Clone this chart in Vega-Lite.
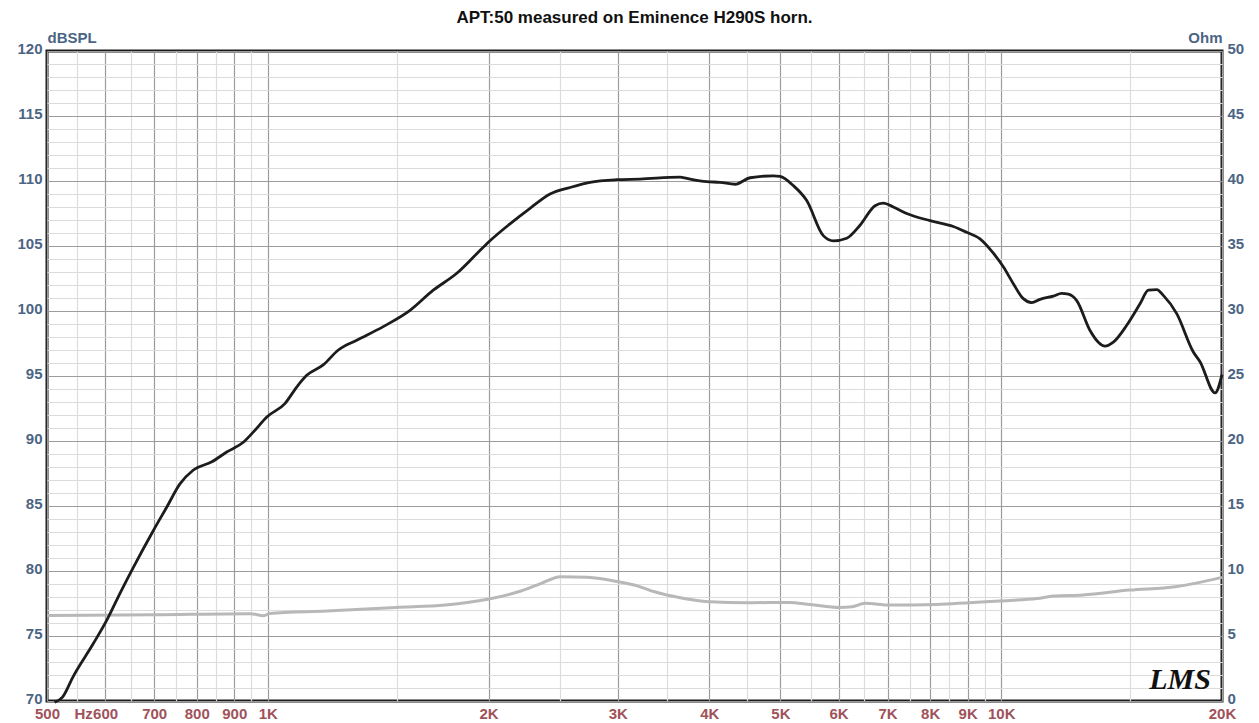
{
  "$schema": "https://vega.github.io/schema/vega-lite/v6.json",
  "width": 1175,
  "height": 650,
  "autosize": {"type": "none"},
  "padding": {"left": 47, "top": 51, "right": 37, "bottom": 22},
  "background": "white",
  "config": {
    "view": {"stroke": "#1a1a1a", "strokeWidth": 3},
    "axis": {"labelFont": "Liberation Sans", "labelFontWeight": "bold", "labelFontSize": 15, "titleFont": "Liberation Sans", "titleFontWeight": "bold", "titleFontSize": 15, "ticks": false, "domain": false, "labelOverlap": false}
  },
  "title": {"text": "APT:50 measured on Eminence H290S horn.", "font": "Liberation Sans", "fontWeight": "bold", "fontSize": 17, "color": "#111111", "anchor": "middle", "offset": 3},
  "datasets": {
    "spl": [
      {"f": 512, "db": 69.9}, {"f": 525, "db": 70.3}, {"f": 543, "db": 71.9}, {"f": 578, "db": 74.4}, {"f": 603, "db": 76.2},
      {"f": 629, "db": 78.3}, {"f": 656, "db": 80.3}, {"f": 698, "db": 83.1}, {"f": 728, "db": 84.9}, {"f": 759, "db": 86.7},
      {"f": 791, "db": 87.75}, {"f": 839, "db": 88.4}, {"f": 879, "db": 89.15}, {"f": 926, "db": 89.9}, {"f": 956, "db": 90.7},
      {"f": 997, "db": 91.85}, {"f": 1056, "db": 92.9}, {"f": 1095, "db": 94.15}, {"f": 1130, "db": 95.05}, {"f": 1190, "db": 95.85},
      {"f": 1248, "db": 97.0}, {"f": 1322, "db": 97.75}, {"f": 1437, "db": 98.8}, {"f": 1563, "db": 100.05}, {"f": 1681, "db": 101.6},
      {"f": 1810, "db": 102.9}, {"f": 1927, "db": 104.4}, {"f": 2009, "db": 105.4}, {"f": 2139, "db": 106.7}, {"f": 2278, "db": 107.9},
      {"f": 2426, "db": 109.0}, {"f": 2583, "db": 109.5}, {"f": 2750, "db": 109.9}, {"f": 2991, "db": 110.1}, {"f": 3218, "db": 110.15},
      {"f": 3648, "db": 110.3}, {"f": 3726, "db": 110.2}, {"f": 3967, "db": 109.95}, {"f": 4136, "db": 109.9}, {"f": 4336, "db": 109.75},
      {"f": 4545, "db": 110.25}, {"f": 4890, "db": 110.4}, {"f": 4993, "db": 110.35}, {"f": 5206, "db": 109.65}, {"f": 5430, "db": 108.5},
      {"f": 5720, "db": 105.8}, {"f": 5903, "db": 105.4}, {"f": 6157, "db": 105.6}, {"f": 6419, "db": 106.6}, {"f": 6729, "db": 108.1},
      {"f": 6907, "db": 108.3}, {"f": 7127, "db": 108.0}, {"f": 7433, "db": 107.5}, {"f": 7997, "db": 106.95}, {"f": 8604, "db": 106.5},
      {"f": 8974, "db": 106.05}, {"f": 9356, "db": 105.55}, {"f": 9755, "db": 104.45}, {"f": 10066, "db": 103.4}, {"f": 10387, "db": 102.1},
      {"f": 10718, "db": 100.95}, {"f": 11005, "db": 100.65}, {"f": 11295, "db": 100.9}, {"f": 11777, "db": 101.15}, {"f": 12092, "db": 101.35},
      {"f": 12345, "db": 101.3}, {"f": 12675, "db": 100.8}, {"f": 13216, "db": 98.5}, {"f": 13565, "db": 97.6}, {"f": 13853, "db": 97.3},
      {"f": 14219, "db": 97.6}, {"f": 14830, "db": 98.9}, {"f": 15462, "db": 100.55}, {"f": 15870, "db": 101.6}, {"f": 16294, "db": 101.65},
      {"f": 16635, "db": 101.2}, {"f": 17350, "db": 99.8}, {"f": 18278, "db": 96.85}, {"f": 18667, "db": 96.1}, {"f": 19570, "db": 93.7},
      {"f": 20000, "db": 95.1}
    ],
    "imp": [
      {"f": 500, "ohm": 6.58}, {"f": 701, "ohm": 6.64}, {"f": 947, "ohm": 6.72}, {"f": 988, "ohm": 6.56}, {"f": 1006, "ohm": 6.74},
      {"f": 1204, "ohm": 6.92}, {"f": 1495, "ohm": 7.2}, {"f": 1748, "ohm": 7.38}, {"f": 1995, "ohm": 7.82}, {"f": 2196, "ohm": 8.4},
      {"f": 2360, "ohm": 9.05}, {"f": 2507, "ohm": 9.56}, {"f": 2727, "ohm": 9.51}, {"f": 2990, "ohm": 9.2}, {"f": 3198, "ohm": 8.84},
      {"f": 3369, "ohm": 8.4}, {"f": 3694, "ohm": 7.89}, {"f": 4008, "ohm": 7.63}, {"f": 4502, "ohm": 7.56}, {"f": 5137, "ohm": 7.58},
      {"f": 5487, "ohm": 7.43}, {"f": 6019, "ohm": 7.2}, {"f": 6260, "ohm": 7.25}, {"f": 6514, "ohm": 7.51}, {"f": 7054, "ohm": 7.38},
      {"f": 8149, "ohm": 7.43}, {"f": 9931, "ohm": 7.69}, {"f": 11190, "ohm": 7.89}, {"f": 11790, "ohm": 8.07}, {"f": 12928, "ohm": 8.15},
      {"f": 14956, "ohm": 8.53}, {"f": 17290, "ohm": 8.79}, {"f": 20000, "ohm": 9.51}
    ],
    "logo": [{"t": "LMS"}]
  },
  "layer": [
    {
      "data": {"name": "imp"},
      "mark": {"type": "line", "color": "#b8b8b8", "strokeWidth": 3, "interpolate": "monotone"},
      "encoding": {
        "x": {"field": "f", "type": "quantitative", "scale": {"type": "log", "domain": [500, 20000], "nice": false},
          "axis": {
            "values": [500, 550, 560, 600, 650, 700, 750, 800, 850, 900, 950, 1000, 1500, 2000, 2500, 3000, 3500, 4000, 4500, 5000, 5500, 6000, 6500, 7000, 7500, 8000, 8500, 9000, 9500, 10000, 15000, 20000],
            "labelExpr": "datum.value == 560 ? 'Hz' : (indexof([500,600,700,800,900,1000,2000,3000,4000,5000,6000,7000,8000,9000,10000,20000], datum.value) >= 0 ? (datum.value >= 1000 ? (datum.value / 1000) + 'K' : '' + datum.value) : '')",
            "gridColor": {"condition": {"test": "indexof([500,600,700,800,900,1000,2000,3000,4000,5000,6000,7000,8000,9000,10000,20000], datum.value) >= 0", "value": "#9c9c9c"}, "value": "#dcdcdc"},
            "gridOpacity": {"condition": {"test": "datum.value == 560", "value": 0}, "value": 1},
            "gridWidth": 1.2,
            "labelColor": "#a0525a",
            "labelPadding": 5,
            "labelFlush": false,
            "title": null
          }
        },
        "y": {"field": "ohm", "type": "quantitative", "scale": {"domain": [0, 50], "nice": false, "zero": true},
          "axis": {
            "orient": "right",
            "values": [0, 5, 10, 15, 20, 25, 30, 35, 40, 45, 50],
            "grid": false,
            "labelColor": "#4b6584",
            "labelPadding": 5,
            "labelOffset": -3,
            "title": "Ohm",
            "titleColor": "#4b6584",
            "titleAngle": 0,
            "titleX": 0,
            "titleY": -6,
            "titleAlign": "right",
            "titleBaseline": "bottom"
          }
        }
      }
    },
    {
      "data": {"name": "spl"},
      "mark": {"type": "line", "color": "#1c1c1c", "strokeWidth": 2.8, "interpolate": "monotone"},
      "encoding": {
        "x": {"field": "f", "type": "quantitative", "scale": {"type": "log", "domain": [500, 20000], "nice": false}},
        "y": {"field": "db", "type": "quantitative", "scale": {"domain": [70, 120], "nice": false, "zero": false},
          "axis": {
            "orient": "left",
            "values": [70,71,72,73,74,75,76,77,78,79,80,81,82,83,84,85,86,87,88,89,90,91,92,93,94,95,96,97,98,99,100,101,102,103,104,105,106,107,108,109,110,111,112,113,114,115,116,117,118,119,120],
            "labelExpr": "datum.value % 5 == 0 ? '' + datum.value : ''",
            "grid": true,
            "gridColor": {"condition": {"test": "datum.value % 5 == 0", "value": "#9c9c9c"}, "value": "#dcdcdc"},
            "gridWidth": 1.2,
            "labelColor": "#4b6584",
            "labelPadding": 5,
            "labelOffset": -3,
            "title": "dBSPL",
            "titleColor": "#4b6584",
            "titleAngle": 0,
            "titleX": 0,
            "titleY": -6,
            "titleAlign": "left",
            "titleBaseline": "bottom"
          }
        }
      }
    },
    {
      "data": {"name": "logo"},
      "mark": {"type": "text", "font": "Liberation Serif", "fontStyle": "italic", "fontWeight": "bold", "fontSize": 30, "color": "#111111"},
      "encoding": {
        "text": {"field": "t"},
        "x": {"datum": 17530, "type": "quantitative"},
        "y": {"datum": 71.6, "type": "quantitative", "scale": {"domain": [70, 120], "nice": false, "zero": false}, "axis": null}
      }
    }
  ],
  "resolve": {"scale": {"y": "independent"}}
}
